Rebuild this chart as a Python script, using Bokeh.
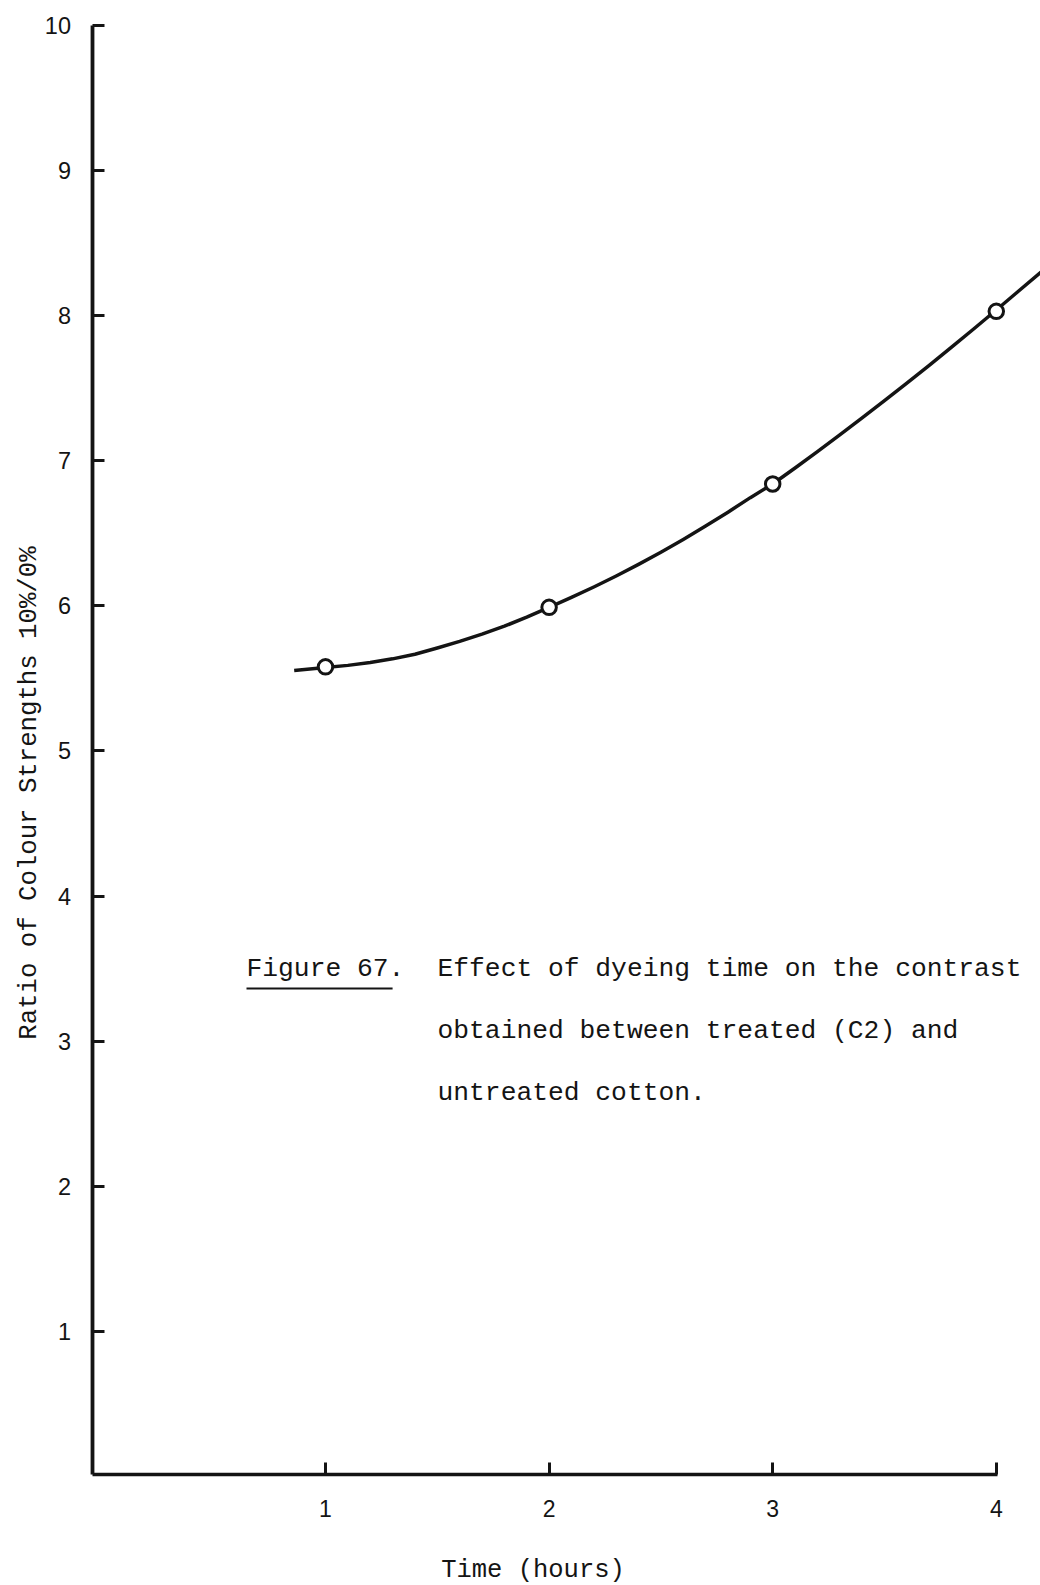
import numpy as np
from bokeh.plotting import figure
from bokeh.models import Range1d, FixedTicker, Label, LinearAxis
from bokeh.embed import file_html
from bokeh.resources import INLINE

# ---- data ----
time_hours = [1, 2, 3, 4]
ratio = [5.58, 5.99, 6.84, 8.03]

# hand-drawn smooth curve
curve_x = [0.86, 1.0, 1.1, 1.2, 1.3, 1.4, 1.5, 1.6, 1.7, 1.8, 1.9, 2.0,
           2.1, 2.2, 2.3, 2.4, 2.5, 2.6, 2.7, 2.8, 2.9, 3.0,
           3.1, 3.2, 3.3, 3.4, 3.5, 3.6, 3.7, 3.8, 3.9, 4.0, 4.1, 4.2]
curve_y = [5.555, 5.575, 5.59, 5.61, 5.635, 5.667, 5.71, 5.755, 5.805, 5.86, 5.922, 5.99,
           6.058, 6.130, 6.206, 6.286, 6.370, 6.458, 6.550, 6.646, 6.746, 6.84,
           6.95, 7.063, 7.178, 7.295, 7.414, 7.535, 7.658, 7.783, 7.91, 8.039, 8.17, 8.30]

x_ticks = [1, 2, 3, 4]
y_ticks = [1, 2, 3, 4, 5, 6, 7, 8, 9, 10]

x_title = "Time (hours)"
y_title = "Ratio of Colour Strengths 10%/0%"
caption_head = "Figure 67."
caption_lines = [
    "Effect of dyeing time on the contrast",
    "obtained between treated (C2) and",
    "untreated cotton.",
]

INK = "#141414"
MONO = "Liberation Mono"
SANS = "Liberation Sans"

W, H = 1040, 1585
p = figure(
    width=W, height=H,
    x_range=Range1d(-0.4535, 4.1977),
    y_range=Range1d(-0.751, 10.172),
    x_axis_location=None, y_axis_location=None,
    output_backend="svg", toolbar_location=None,
    min_border=0,
)
p.outline_line_color = None
p.background_fill_color = "white"
p.border_fill_color = "white"
p.grid.visible = False

xaxis = LinearAxis(
    fixed_location=0.017, bounds=(-0.04, 4.004),
    ticker=FixedTicker(ticks=x_ticks),
    axis_line_width=3.5, axis_line_color=INK,
    major_tick_in=12, major_tick_out=0,
    major_tick_line_width=3, major_tick_line_color=INK,
    minor_tick_line_color=None,
    major_label_standoff=26,
    major_label_text_font=SANS, major_label_text_font_size="23px",
    major_label_text_color=INK,
)
p.add_layout(xaxis, "below")

yaxis = LinearAxis(
    fixed_location=-0.04, bounds=(0.017, 10),
    ticker=FixedTicker(ticks=y_ticks),
    axis_line_width=3.8, axis_line_color=INK,
    major_tick_in=12, major_tick_out=0,
    major_tick_line_width=3, major_tick_line_color=INK,
    minor_tick_line_color=None,
    major_label_standoff=22,
    major_label_text_font=SANS, major_label_text_font_size="23.5px",
    major_label_text_color=INK,
)
p.add_layout(yaxis, "left")

# curve and points
p.line(curve_x, curve_y, line_width=3.5, line_color=INK, line_join="round")
p.scatter(time_hours, ratio, marker="circle", size=14.5, line_width=3,
          line_color=INK, fill_color="white")

# axis titles
p.add_layout(Label(x=-0.325, y=4.71, text=y_title, angle=np.pi / 2,
                   text_align="center", text_baseline="middle",
                   text_font=MONO, text_font_size="25.7px", text_color=INK))
p.add_layout(Label(x=1.928, y=-0.648, text=x_title,
                   text_align="center", text_baseline="middle",
                   text_font=MONO, text_font_size="25.5px", text_color=INK))

# caption
cap_x_head = 0.6467
cap_x_body = 1.501
cap_rows = [3.501, 3.067, 2.646]
p.add_layout(Label(x=cap_x_head, y=cap_rows[0], text=caption_head,
                   text_align="left", text_baseline="middle",
                   text_font=MONO, text_font_size="26.3px", text_color=INK))
for yy, line in zip(cap_rows, caption_lines):
    p.add_layout(Label(x=cap_x_body, y=yy, text=line,
                       text_align="left", text_baseline="middle",
                       text_font=MONO, text_font_size="26.3px", text_color=INK))
# underline of "Figure 67"
p.segment(x0=[cap_x_head], y0=[3.363], x1=[1.30], y1=[3.363],
          line_width=2, line_color=INK)

open("out.html", "w").write(file_html(p, INLINE))
